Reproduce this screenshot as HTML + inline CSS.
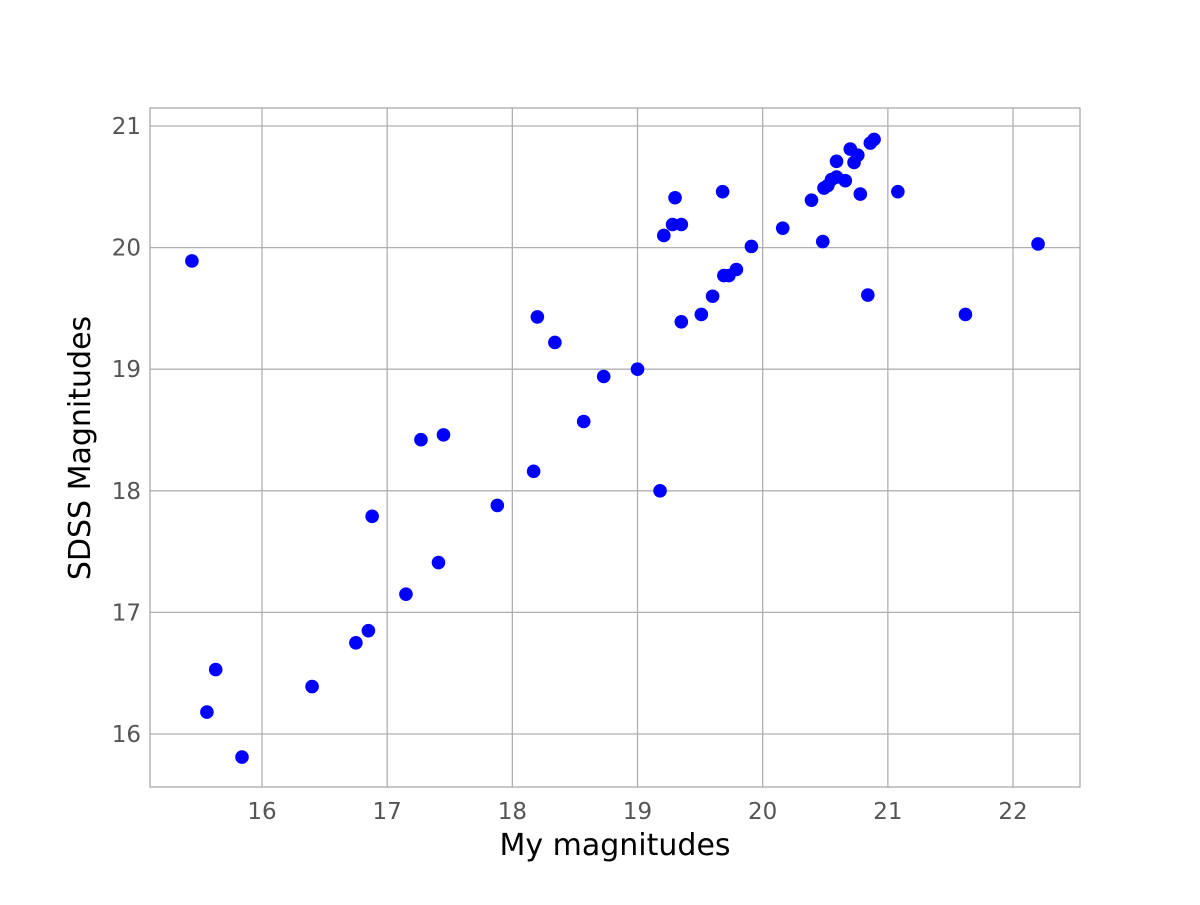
<!DOCTYPE html>
<html><head><meta charset="utf-8"><style>
body{margin:0;background:#fff;}
svg text{font-family:"DejaVu Sans","Liberation Sans",sans-serif;}
</style></head><body>
<svg id="chart" width="1200" height="900" xmlns="http://www.w3.org/2000/svg">
<rect width="1200" height="900" fill="#fff"/>
<g id="grid"></g>
<g id="ticks"></g>
<rect x="150" y="108" width="930" height="679" fill="none" stroke="#aaaaaa" stroke-width="1.3"/>
<g id="points"></g>
<text x="615" y="855" font-size="30" text-anchor="middle" fill="#000">My magnitudes</text>
<text x="0" y="0" font-size="30" text-anchor="middle" fill="#000" transform="translate(90,448) rotate(-90)">SDSS Magnitudes</text>
</svg>
<script>
const xTicks=[16,17,18,19,20,21,22];
const yTicks=[16,17,18,19,20,21];
const xVals=[15.44,15.56,15.63,15.84,16.40,16.75,16.85,16.88,17.15,17.27,17.41,17.45,17.88,18.17,18.20,18.34,18.57,18.73,19.00,19.18,19.21,19.28,19.30,19.35,19.35,19.51,19.60,19.68,19.69,19.73,19.79,19.91,20.16,20.39,20.48,20.49,20.52,20.55,20.59,20.59,20.66,20.70,20.73,20.76,20.78,20.84,20.86,20.89,21.08,21.62,22.20];
const yVals=[19.89,16.18,16.53,15.81,16.39,16.75,16.85,17.79,17.15,18.42,17.41,18.46,17.88,18.16,19.43,19.22,18.57,18.94,19.00,18.00,20.10,20.19,20.41,20.19,19.39,19.45,19.60,20.46,19.77,19.77,19.82,20.01,20.16,20.39,20.05,20.49,20.51,20.56,20.58,20.71,20.55,20.81,20.70,20.76,20.44,19.61,20.86,20.89,20.46,19.45,20.03];
const X=v=>262+(v-16)*125.17;
const Y=v=>734-(v-16)*121.6;
const NS='http://www.w3.org/2000/svg';
const g=document.getElementById('grid'),t=document.getElementById('ticks'),p=document.getElementById('points');
function mk(tag,attrs,parent){const e=document.createElementNS(NS,tag);for(const k in attrs)e.setAttribute(k,attrs[k]);parent.appendChild(e);return e;}
xTicks.forEach(v=>{
 const l=mk('line',{x1:X(v),x2:X(v),y1:108,y2:787,stroke:'#b0b0b0','stroke-width':1.3},g);
 
 
 const s=mk('text',{x:X(v),y:819,'font-size':23,'text-anchor':'middle',fill:'#555'},t);s.textContent=v;
 
 
});
yTicks.forEach(v=>{
 const l=mk('line',{x1:150,x2:1080,y1:Y(v),y2:Y(v),stroke:'#b0b0b0','stroke-width':1.3},g);
 
 
 const s=mk('text',{x:141,y:Y(v)+8,'font-size':23,'text-anchor':'end',fill:'#555'},t);s.textContent=v;
 
 
});
xVals.forEach((v,i)=>{
 const c=mk('circle',{cx:X(v),cy:Y(yVals[i]),r:6.8,fill:'#0000ff'},p);
 
 
});
</script>
</body></html>
